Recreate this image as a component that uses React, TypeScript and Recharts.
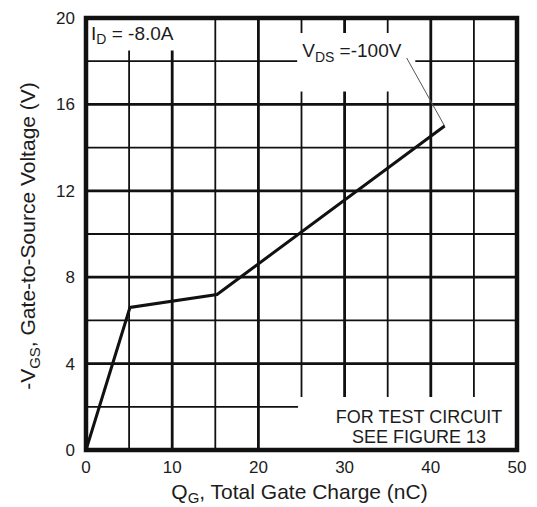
import {
  LineChart,
  Line,
  XAxis,
  YAxis,
  CartesianGrid,
  ReferenceArea,
  ReferenceLine,
} from "recharts";

// gate charge curve
const charge = [0, 5.1, 15.2, 41.6];
const vgs = [0, 6.6, 7.2, 15.0];

const xTicks = [0, 10, 20, 30, 40, 50];
const yTicks = [0, 4, 8, 12, 16, 20];
const xMinor = [5, 15, 25, 35, 45];
const yMinor = [2, 6, 10, 14, 18];
const xMajor = [10, 20, 30, 40];
const yMajor = [4, 8, 12, 16];

const data = charge.map((q, i) => ({ q, v: vgs[i] }));

const FONT = "'Liberation Sans', Arial, Helvetica, sans-serif";
const INK = "#1c1c1c";

const XTitle = (props: any) => {
  const vb = props.viewBox;
  return (
    <text
      x={vb.x + vb.width / 2 - 2}
      y={vb.y + 49}
      textAnchor="middle"
      fontFamily={FONT}
      fontSize={21}
      fill={INK}
    >
      Q<tspan fontSize={15} dy={4}>G</tspan>
      <tspan dy={-4}>, Total Gate Charge (nC)</tspan>
    </text>
  );
};

const YTitle = (props: any) => {
  const vb = props.viewBox;
  const x = vb.x + 9;
  const y = vb.y + vb.height / 2 + 2;
  return (
    <text
      x={x}
      y={y}
      transform={`rotate(-90 ${x} ${y})`}
      textAnchor="middle"
      fontFamily={FONT}
      fontSize={21}
      fill={INK}
    >
      -V<tspan fontSize={15} dy={5}>GS</tspan>
      <tspan dy={-5}>, Gate-to-Source Voltage (V)</tspan>
    </text>
  );
};

const IdLabel = (props: any) => {
  const vb = props.viewBox;
  return (
    <text x={vb.x + 5} y={vb.y + 22} fontFamily={FONT} fontSize={19} fill={INK}>
      I<tspan fontSize={14} dy={4}>D</tspan>
      <tspan dy={-4}> = -8.0A</tspan>
    </text>
  );
};

const VdsLabel = (props: any) => {
  const vb = props.viewBox;
  return (
    <text x={vb.x + 5} y={vb.y + 24} fontFamily={FONT} fontSize={19} fill={INK}>
      V<tspan fontSize={14} dy={5}>DS</tspan>
      <tspan dy={-5}> =-100V</tspan>
    </text>
  );
};

const TestLabel = (props: any) => {
  const vb = props.viewBox;
  const cx = vb.x + vb.width - 98;
  return (
    <text textAnchor="middle" fontFamily={FONT} fontSize={18} fill={INK}>
      <tspan x={cx} y={vb.y + 26}>FOR TEST CIRCUIT</tspan>
      <tspan x={cx} y={vb.y + 46}>SEE FIGURE 13</tspan>
    </text>
  );
};

export default function App() {
  return (
    <div style={{ position: "absolute", left: 0, top: 0, background: "#fff" }}>
      <LineChart
        width={537}
        height={507}
        data={data}
        margin={{ top: 18, right: 20, bottom: 27, left: 26 }}
      >
        <CartesianGrid
          horizontalValues={yMinor}
          verticalValues={xMinor}
          stroke="#111"
          strokeWidth={1.8}
        />
        <CartesianGrid
          horizontalValues={yMajor}
          verticalValues={xMajor}
          stroke="#111"
          strokeWidth={2.8}
        />
        <XAxis
          type="number"
          dataKey="q"
          domain={[0, 50]}
          ticks={xTicks}
          axisLine={false}
          tickLine={false}
          tickSize={0}
          tickMargin={11}
          height={30}
          tick={{ fontSize: 17, fill: INK, fontFamily: FONT }}
          label={{ content: XTitle }}
        />
        <YAxis
          type="number"
          domain={[0, 20]}
          ticks={yTicks}
          axisLine={false}
          tickLine={false}
          tickSize={0}
          tickMargin={11}
          width={60}
          tick={{ fontSize: 17, fill: INK, fontFamily: FONT }}
          label={{ content: YTitle }}
        />
        <ReferenceArea x1={0} x2={13} y1={18.5} y2={20} fill="#fff" fillOpacity={1} stroke="none" label={{ content: IdLabel }} />
        <ReferenceArea x1={24.5} x2={38.2} y1={16.6} y2={19.3} fill="#fff" fillOpacity={1} stroke="none" label={{ content: VdsLabel }} />
        <ReferenceArea x1={24.6} x2={50} y1={0} y2={2.45} fill="#fff" fillOpacity={1} stroke="none" label={{ content: TestLabel }} />
        <ReferenceLine
          segment={[
            { x: 37.2, y: 18.15 },
            { x: charge[charge.length - 1], y: vgs[vgs.length - 1] },
          ]}
          stroke="#555"
          strokeWidth={1}
        />
        <Line
          type="linear"
          dataKey="v"
          stroke="#111"
          strokeWidth={3}
          dot={false}
          isAnimationActive={false}
        />
        <ReferenceArea x1={0} x2={50} y1={0} y2={20} fill="none" stroke="#111" strokeWidth={4.5} />
      </LineChart>
    </div>
  );
}
